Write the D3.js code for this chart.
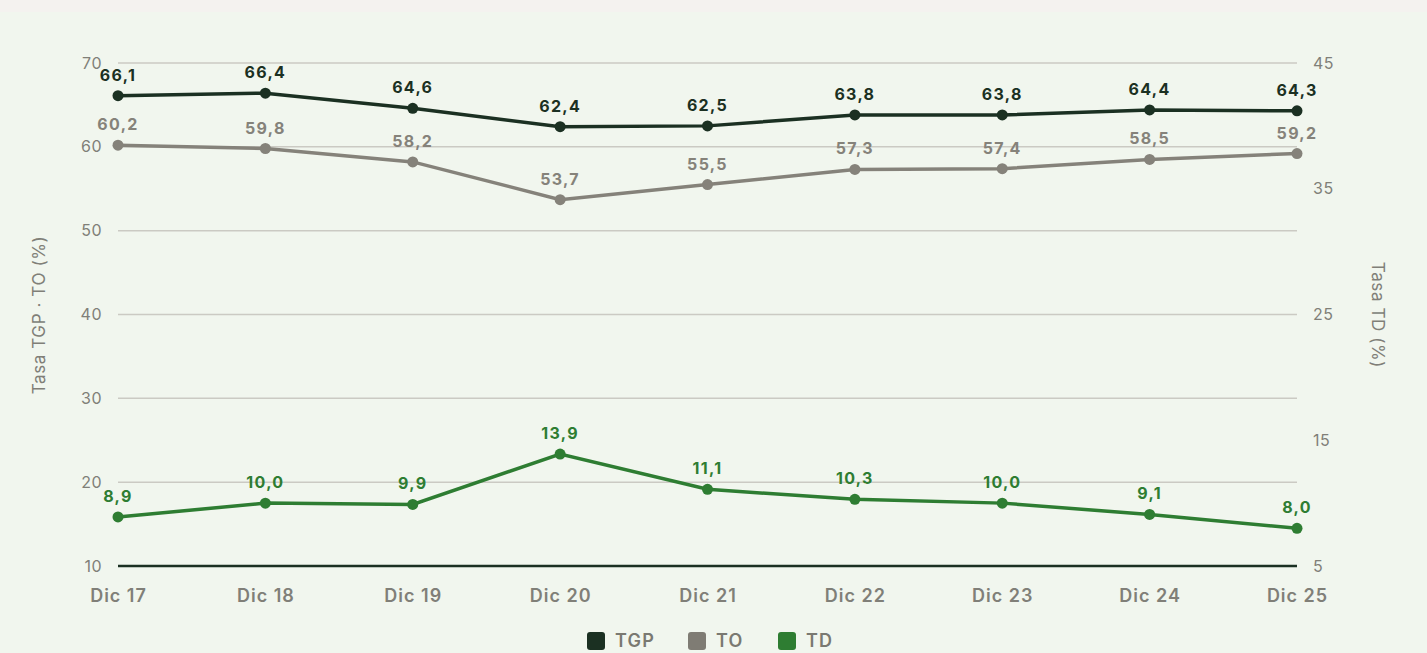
<!DOCTYPE html>
<html><head><meta charset="utf-8">
<script src="https://cdn.jsdelivr.net/npm/d3@7"></script>
<style>
html,body{margin:0;padding:0;background:#f1f6ee;}
svg{display:block;font-family:Inter,"Liberation Sans",sans-serif;}
</style></head><body>
<svg id="c" width="1427" height="653"></svg>
<script>
const categories = ["Dic 17","Dic 18","Dic 19","Dic 20","Dic 21","Dic 22","Dic 23","Dic 24","Dic 25"];
const tgp = [66.1,66.4,64.6,62.4,62.5,63.8,63.8,64.4,64.3];
const to  = [60.2,59.8,58.2,53.7,55.5,57.3,57.4,58.5,59.2];
const td  = [8.9,10.0,9.9,13.9,11.1,10.3,10.0,9.1,8.0];
const leftTicks = [10,20,30,40,50,60,70];
const rightTicks = [5,15,25,35,45];
const seriesNames = ["TGP","TO","TD"];
const colors = {TGP:"#1b3022", TO:"#7f7c74", TD:"#2e7d32"};

const svg = d3.select("#c");
svg.append("rect").attr("x",0).attr("y",0).attr("width",1427).attr("height",12).attr("fill","#f4f2ef");

const x = d3.scalePoint().domain(categories).range([118,1297]);
const yL = d3.scaleLinear().domain([10,70]).range([566,63]);
const yR = d3.scaleLinear().domain([5,45]).range([566,63]);
const fmt = v => d3.format(".1f")(v).replace(".", ",");

// gridlines
svg.append("g").selectAll("line").data(leftTicks.filter(t=>t>10)).join("line")
  .attr("x1",118).attr("x2",1297).attr("y1",d=>yL(d)).attr("y2",d=>yL(d))
  .attr("stroke","#cbcac3").attr("stroke-width",1.5);
// baseline
svg.append("line").attr("x1",118).attr("x2",1297).attr("y1",yL(10)).attr("y2",yL(10))
  .attr("stroke","#1b3022").attr("stroke-width",2.5);

// left axis
const la = svg.append("g").attr("transform","translate(102,0)")
  .call(d3.axisLeft(yL).tickValues(leftTicks).tickSize(0).tickPadding(0));
la.select(".domain").remove();
la.selectAll("text").attr("fill","#807f78").attr("font-size",16).attr("letter-spacing",0.5).attr("font-family","Inter,sans-serif").attr("dy","0.32em");
// right axis
const ra = svg.append("g").attr("transform","translate(1313,0)")
  .call(d3.axisRight(yR).tickValues(rightTicks).tickSize(0).tickPadding(0));
ra.select(".domain").remove();
ra.selectAll("text").attr("fill","#807f78").attr("font-size",16).attr("letter-spacing",0.5).attr("font-family","Inter,sans-serif").attr("dy","0.32em");
// bottom axis
const ba = svg.append("g").attr("transform","translate(0,596)")
  .call(d3.axisBottom(x).tickSize(0).tickPadding(0));
ba.select(".domain").remove();
ba.selectAll("text").attr("fill","#807f78").attr("font-size",18).attr("font-weight",600).attr("letter-spacing",1)
  .attr("font-family","Inter,sans-serif").attr("dy","0.35em");

// axis titles
svg.append("text").attr("transform","translate(39,315) rotate(-90)").attr("text-anchor","middle")
  .attr("dy","0.35em").attr("fill","#807f78").attr("font-size",17).attr("letter-spacing",0.6).text("Tasa TGP · TO (%)");
svg.append("text").attr("transform","translate(1378,315) rotate(90)").attr("text-anchor","middle")
  .attr("dy","0.35em").attr("fill","#807f78").attr("font-size",17).attr("letter-spacing",0.6).text("Tasa TD (%)");

function drawSeries(vals, y, color){
  const g = svg.append("g");
  g.append("path").datum(vals)
    .attr("d", d3.line().x((d,i)=>x(categories[i])).y(d=>y(d)))
    .attr("fill","none").attr("stroke",color).attr("stroke-width",3.5);
  g.selectAll("circle").data(vals).join("circle")
    .attr("cx",(d,i)=>x(categories[i])).attr("cy",d=>y(d)).attr("r",5.5).attr("fill",color);
  g.selectAll("text").data(vals).join("text")
    .attr("x",(d,i)=>x(categories[i])).attr("y",d=>y(d)-15)
    .attr("text-anchor","middle").attr("fill",color).attr("font-size",16).attr("font-weight",700)
    .attr("letter-spacing",1.3)
    .text(fmt);
}
drawSeries(to, yL, "#85827a");
drawSeries(tgp, yL, colors.TGP);
drawSeries(td, yR, colors.TD);

// legend
const legX = [587, 688, 778];
const lg = svg.append("g");
seriesNames.forEach((n,i)=>{
  lg.append("rect").attr("x",legX[i]).attr("y",632).attr("width",18).attr("height",18).attr("rx",3).attr("fill",colors[n]);
  lg.append("text").attr("x",legX[i]+28).attr("y",641).attr("dy","0.35em").attr("fill","#7a7971")
    .attr("font-size",18).attr("font-weight",600).attr("letter-spacing",1.2).text(n);
});
</script>
</body></html>
